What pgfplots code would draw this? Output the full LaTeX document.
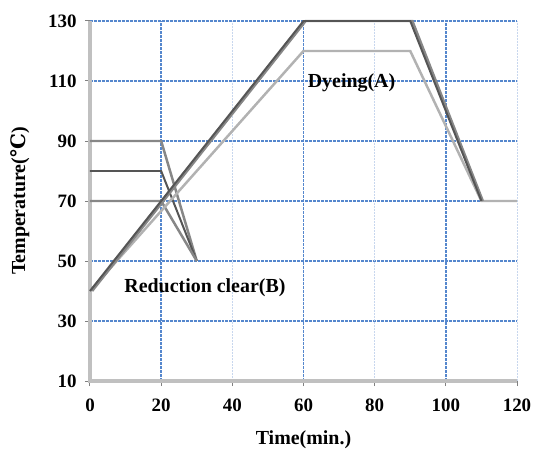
\documentclass[border=0pt]{standalone}
\usepackage{pgfplots}
\pgfplotsset{compat=1.18}
\usepackage{fontspec}
\setmainfont{Liberation Serif}
\newfontfamily\dejavu{DejaVu Serif}
\definecolor{gridblue}{RGB}{85,135,205}
\definecolor{gridlight}{RGB}{200,215,238}
\definecolor{axgray}{RGB}{192,192,192}
\definecolor{darkln}{RGB}{85,85,85}
\definecolor{midln}{RGB}{135,135,135}
\definecolor{lightln}{RGB}{178,178,178}
\begin{document}
\begin{tikzpicture}
\path[use as bounding box] (-90bp,-71bp) rectangle (443bp,381bp);
\begin{axis}[
  at={(0,0)}, anchor=south west,
  scale only axis, width=427bp, height=360bp,
  xmin=0, xmax=120, ymin=10, ymax=130,
  clip=false,
  /pgf/number format/assume math mode=true,
  axis x line*=bottom, axis y line*=left,
  axis line style={draw=none},
  xtick={20,60,100}, extra x ticks={0,40,80,120},
  ytick={30,50,...,130}, extra y ticks={10},
  tick align=outside, major tick length=5bp,
  tick style={gray, line width=1pt},
  xmajorgrids, ymajorgrids,
  x grid style={gridblue, line width=2pt, dash pattern=on 3pt off 1pt},
  y grid style={gridblue, line width=1.2pt, dash pattern=on 3pt off 1pt},
  extra x tick style={grid=major, x grid style={gridlight, line width=1pt, dash pattern=on 2pt off 1pt}},
  extra y tick style={grid=none},
  xticklabel style={font=\fontsize{19}{19}\selectfont\bfseries, yshift=-9bp},
  yticklabel style={font=\fontsize{19}{19}\selectfont\bfseries, xshift=-5bp},
  xlabel={Time(min.)}, ylabel={Temperature({\dejavu\bfseries ℃})},
  xlabel style={font=\fontsize{20}{20}\selectfont\bfseries, yshift=-3bp},
  ylabel style={font=\fontsize{20}{20}\selectfont\bfseries, yshift=2bp},
]
\draw[axgray, line width=3.5pt] (axis cs:0,130) -- (axis cs:0,10) -- (axis cs:120,10);
\addplot[midln, line width=2.5pt] coordinates {(0,90)(20,90)(30,50)};
\addplot[darkln, line width=2pt] coordinates {(0,80)(20,80)(30,50)};
\addplot[midln, line width=2.5pt] coordinates {(0,70)(20,70)(30,50)};
\addplot[lightln, line width=2.5pt] coordinates {(0,40)(60,120)(90,120)(110,70)(120,70)};
\addplot[midln, line width=2.5pt] coordinates {(0.6,40)(60.6,130)(90.6,130)(110.4,70)};
\addplot[darkln, line width=2pt] coordinates {(0,40)(60,130)(90,130)(110,70)};
\node[font=\fontsize{20}{20}\selectfont\bfseries] at (axis cs:73.5,109.4) {Dyeing(A)};
\node[font=\fontsize{20}{20}\selectfont\bfseries] at (axis cs:32.3,41) {Reduction clear(B)};
\end{axis}
\end{tikzpicture}
\end{document}
